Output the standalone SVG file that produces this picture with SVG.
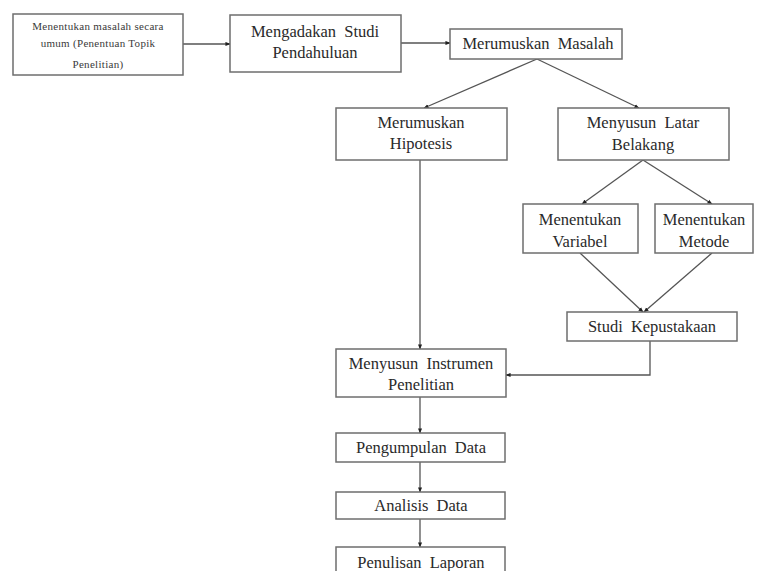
<svg xmlns="http://www.w3.org/2000/svg" width="761" height="571" viewBox="0 0 761 571">
<defs>
<marker id="ah" viewBox="0 0 6 6" refX="5.5" refY="3" markerWidth="5" markerHeight="5" markerUnits="userSpaceOnUse" orient="auto">
<path d="M0,0.5 L6,3 L0,5.5 Z" fill="#222"/>
</marker>
<style>
.box{fill:#fff;stroke:#6e6e6e;stroke-width:1.5}
.t{font-family:"Liberation Serif","Times New Roman",serif;font-size:16.5px;fill:#2a2a2a;text-anchor:middle;word-spacing:4px}
.s{font-family:"Liberation Serif","Times New Roman",serif;font-size:11px;fill:#3a3a3a;text-anchor:middle;letter-spacing:0.3px}
.c{fill:none;stroke:#555;stroke-width:1.3}
</style>
</defs>
<rect width="761" height="571" fill="#fff"/>
<g id="connectors">
<path class="c" d="M183,44 L230,44" marker-end="url(#ah)"/>
<path class="c" d="M401,43 L450,43" marker-end="url(#ah)"/>
<path class="c" d="M537,59 L424,108" marker-end="url(#ah)"/>
<path class="c" d="M537,59 L639,108" marker-end="url(#ah)"/>
<path class="c" d="M420,160 L420,349" marker-end="url(#ah)"/>
<path class="c" d="M643,160 L582,204" marker-end="url(#ah)"/>
<path class="c" d="M643,160 L712,204" marker-end="url(#ah)"/>
<path class="c" d="M580,253 L643,312" marker-end="url(#ah)"/>
<path class="c" d="M712,253 L644,312" marker-end="url(#ah)"/>
<path class="c" d="M650,341 L650,375 L506,375" marker-end="url(#ah)"/>
<path class="c" d="M420,397 L420,433" marker-end="url(#ah)"/>
<path class="c" d="M420,462 L420,492" marker-end="url(#ah)"/>
<path class="c" d="M420,519 L420,547" marker-end="url(#ah)"/>
</g>
<g id="n1">
<rect class="box" x="13" y="14" width="170" height="61"/>
<text class="s" x="98" y="30">Menentukan masalah secara</text>
<text class="s" x="98" y="47">umum (Penentuan Topik</text>
<text class="s" x="98" y="68">Penelitian)</text>
</g>
<g id="n2">
<rect class="box" x="230" y="15" width="171" height="57"/>
<text class="t" x="315" y="37">Mengadakan Studi</text>
<text class="t" x="315" y="58">Pendahuluan</text>
</g>
<g id="n3">
<rect class="box" x="450" y="29" width="172" height="30"/>
<text class="t" x="538" y="49">Merumuskan Masalah</text>
</g>
<g id="n4">
<rect class="box" x="336" y="108" width="171" height="52"/>
<text class="t" x="421" y="128">Merumuskan</text>
<text class="t" x="421" y="149">Hipotesis</text>
</g>
<g id="n5">
<rect class="box" x="558" y="108" width="171" height="52"/>
<text class="t" x="643" y="128">Menyusun Latar</text>
<text class="t" x="643" y="150">Belakang</text>
</g>
<g id="n6">
<rect class="box" x="523" y="204" width="115" height="49"/>
<text class="t" x="580" y="225">Menentukan</text>
<text class="t" x="580" y="247">Variabel</text>
</g>
<g id="n7">
<rect class="box" x="655" y="204" width="98" height="49"/>
<text class="t" x="704" y="225">Menentukan</text>
<text class="t" x="704" y="247">Metode</text>
</g>
<g id="n8">
<rect class="box" x="567" y="312" width="170" height="29"/>
<text class="t" x="652" y="332">Studi Kepustakaan</text>
</g>
<g id="n9">
<rect class="box" x="336" y="349" width="170" height="48"/>
<text class="t" x="421" y="369">Menyusun Instrumen</text>
<text class="t" x="421" y="390">Penelitian</text>
</g>
<g id="n10">
<rect class="box" x="336" y="433" width="169" height="29"/>
<text class="t" x="421" y="453">Pengumpulan Data</text>
</g>
<g id="n11">
<rect class="box" x="336" y="492" width="169" height="27"/>
<text class="t" x="421" y="511">Analisis Data</text>
</g>
<g id="n12">
<rect class="box" x="336" y="547" width="169" height="40"/>
<text class="t" x="421" y="568">Penulisan Laporan</text>
</g>
</svg>
